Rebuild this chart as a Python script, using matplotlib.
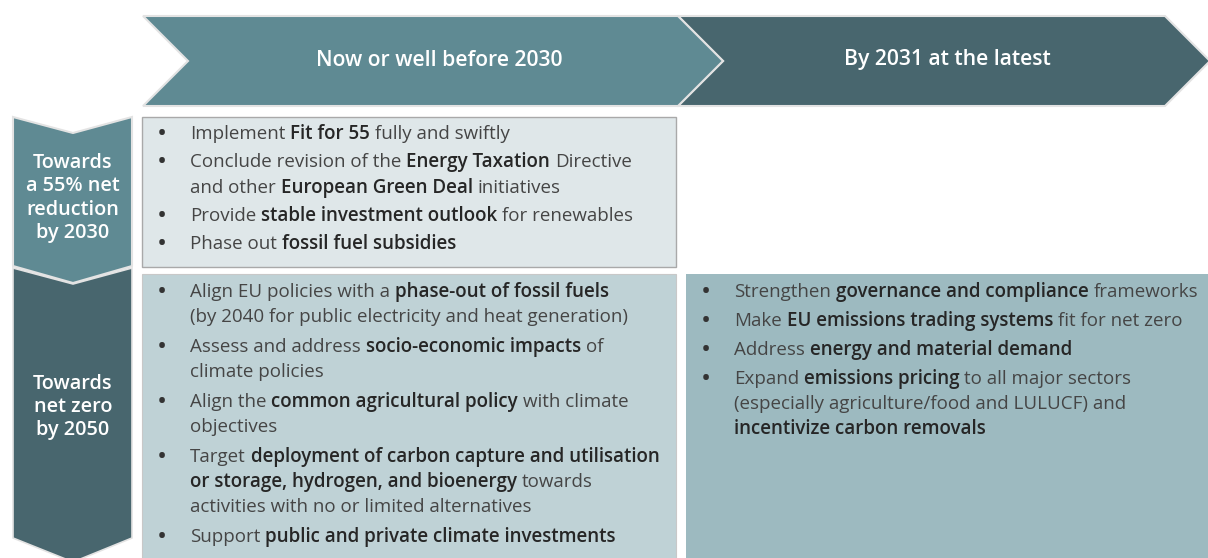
import matplotlib
matplotlib.use("Agg")
import matplotlib.pyplot as plt
from matplotlib.patches import Polygon

FONT = "Open Sans"

# chart content
headers = ["Now or well before 2030", "By 2031 at the latest"]
row_labels = ["Towards\na 55% net\nreduction\nby 2030", "Towards\nnet zero\nby 2050"]

# ** marks the darker, semibold words
actions_2030 = [
    ["Implement **Fit for 55** fully and swiftly"],
    ["Conclude revision of the **Energy Taxation** Directive",
     "and other **European Green Deal** initiatives"],
    ["Provide **stable investment outlook** for renewables"],
    ["Phase out **fossil fuel subsidies**"],
]
actions_2050_now = [
    ["Align EU policies with a **phase-out of fossil fuels**",
     "(by 2040 for public electricity and heat generation)"],
    ["Assess and address **socio-economic impacts** of",
     "climate policies"],
    ["Align the **common agricultural policy** with climate",
     "objectives"],
    ["Target **deployment of carbon capture and utilisation**",
     "**or storage, hydrogen, and bioenergy** towards",
     "activities with no or limited alternatives"],
    ["Support **public and private climate investments**"],
]
actions_2050_later = [
    ["Strengthen **governance and compliance** frameworks"],
    ["Make **EU emissions trading systems** fit for net zero"],
    ["Address **energy and material demand**"],
    ["Expand **emissions pricing** to all major sectors",
     "(especially agriculture/food and LULUCF) and",
     "**incentivize carbon removals**"],
]

TEAL = "#5f8a93"
DARK = "#48666e"
BOX1 = "#dfe7e9"
BOX2 = "#bfd2d6"
BOX3 = "#9dbac0"
TXT = "#454545"
TXT_B = "#262626"
SEMI = 600
REG = 400

fig = plt.figure(figsize=(12.08, 5.58), dpi=100)
ax = fig.add_axes([0, 0, 1, 1])
ax.set_xlim(0, 1208)
ax.set_ylim(558, 0)
ax.axis("off")
renderer = fig.canvas.get_renderer()


def shape(pts, color, edge="none", lw=0, z=1):
    ax.add_patch(Polygon(pts, closed=True, facecolor=color, edgecolor=edge,
                         linewidth=lw, zorder=z, joinstyle="miter"))


def text_width(s, weight, size):
    t = ax.text(0, 0, s, fontsize=size, family=FONT, fontweight=weight)
    w = t.get_window_extent(renderer).width
    t.remove()
    return w


def layout_line(x, y, line, size, draw=True):
    """Place the regular/semibold runs of one line side by side; returns end x."""
    space = {w: text_width("a a", w, size) - text_width("aa", w, size) for w in (REG, SEMI)}
    for i, part in enumerate(line.split("**")):
        if not part:
            continue
        weight = SEMI if i % 2 else REG
        core = part.strip(" ")
        x += (len(part) - len(part.lstrip(" "))) * space[weight]
        if draw:
            t = ax.text(x, y, core, fontsize=size, family=FONT, fontweight=weight,
                        color=TXT_B if i % 2 else TXT, va="center", zorder=5)
            x += t.get_window_extent(renderer).width
        else:
            x += text_width(core, weight, size)
        x += (len(part) - len(part.rstrip(" "))) * space[weight]
    return x


# fit font sizes to the widths of the reference lines
BODY_SIZE = 10 * 464 / layout_line(0, 0, actions_2050_later[0][0], 10, draw=False)
HEAD_SIZE = 10 * 247 / text_width(headers[0], SEMI, 10)
LABEL_SIZE = 10 * 80 / text_width("Towards", SEMI, 10)

# top chevrons
shape([(143, 16), (678, 16), (723, 61), (678, 106), (143, 106), (188, 61)],
      TEAL, "#e3e3e3", 1.5, 2)
shape([(678, 16), (1165, 16), (1210, 61), (1165, 106), (678, 106), (723, 61)],
      DARK, "#e3e3e3", 1.5, 1)

# left arrows
shape([(13, 268), (73, 284), (132, 268), (132, 538), (73, 562), (13, 538)],
      DARK, "#e3e3e3", 1.2, 1)
shape([(13, 117), (73, 133), (132, 117), (132, 266), (73, 283), (13, 266)],
      TEAL, "#e3e3e3", 1.5, 2)

# content boxes
shape([(142, 117), (676, 117), (676, 267), (142, 267)], BOX1, "#a9a9a9", 1, 1)
shape([(142, 274), (676, 274), (676, 560), (142, 560)], BOX2, "#c8c8c8", 0.8, 1)
shape([(686, 274), (1210, 274), (1210, 560), (686, 560)], BOX3, "none", 0, 1)

ax.text(439, 60, headers[0], color="white", fontsize=HEAD_SIZE, fontweight=SEMI,
        family=FONT, ha="center", va="center", zorder=5)
ax.text(947, 60, headers[1], color="white", fontsize=HEAD_SIZE, fontweight=SEMI,
        family=FONT, ha="center", va="center", zorder=5)
ax.text(73, 198, row_labels[0], color="white", fontsize=LABEL_SIZE, fontweight=SEMI,
        family=FONT, ha="center", va="center", linespacing=1.22, zorder=5)
ax.text(73, 407, row_labels[1], color="white", fontsize=LABEL_SIZE, fontweight=SEMI,
        family=FONT, ha="center", va="center", linespacing=1.22, zorder=5)


def draw_list(items, x_bullet, x_text, y0, line_gap, item_gap):
    y = y0
    for item in items:
        ax.text(x_bullet, y + 1, "\u2022", fontsize=BODY_SIZE * 1.45, color="#333333",
                family=FONT, va="center", ha="center", zorder=5)
        for line in item:
            layout_line(x_text, y, line, BODY_SIZE)
            y += line_gap
        y += item_gap - line_gap


draw_list(actions_2030, 162, 190, 134, 26, 28)
draw_list(actions_2050_now, 162, 190, 292, 25, 30)
draw_list(actions_2050_later, 706, 734, 292, 25, 29)

fig.savefig("out.png", dpi=100)
